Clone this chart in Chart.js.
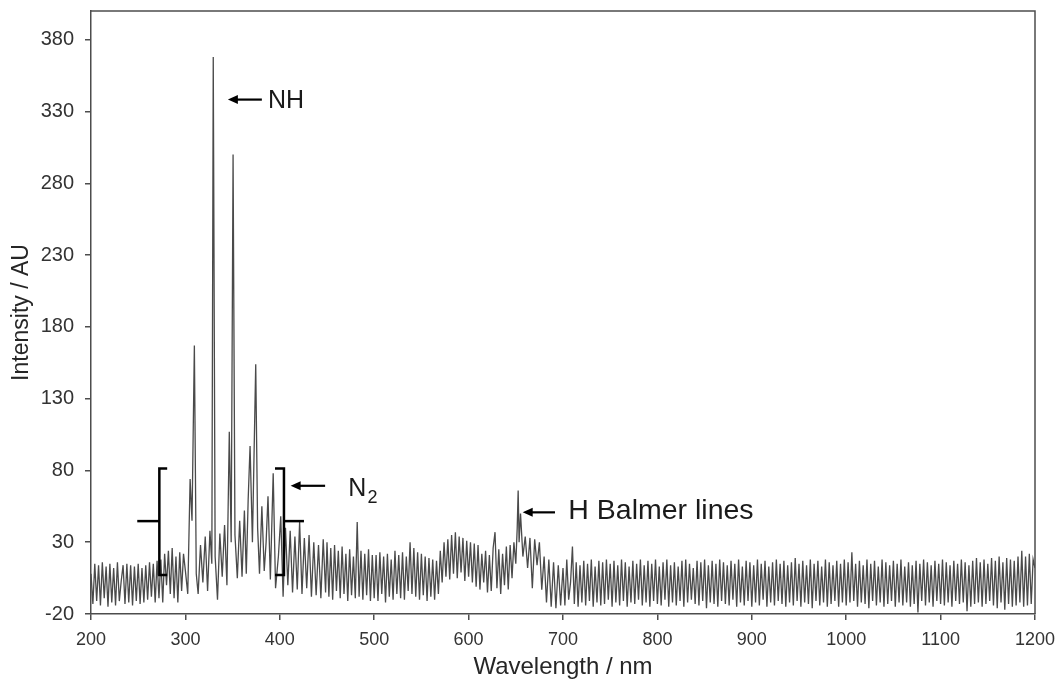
<!DOCTYPE html>
<html>
<head>
<meta charset="utf-8">
<script src="https://cdn.jsdelivr.net/npm/chart.js@4.4.1/dist/chart.umd.min.js"></script>
<style>
  html, body { margin: 0; padding: 0; background: #ffffff; }
  #wrap { width: 1062px; height: 682px; }
</style>
</head>
<body>
<div id="wrap"><canvas id="c" width="1062" height="682"></canvas></div>
<script>
// ---- Data ----
const wavelength = [
  200,202,204,206,208,210,212,214,216,218,220,222,224,226,228,230,232,234,236,238,240,242,244,246,248,
  250,252,254,256,258,260,262,264,266,268,270,272,274,276,278,280,282,284,286,288,290,292,294,296,298,
  300,302.5,305,307,309.5,311.5,313.5,316,318.5,321,323.5,326,328,329.5,331.5,334,336.5,339,341.5,344,
  346.5,348.5,350.5,352.5,355,357.5,360,362.5,364.5,366.5,368.5,371,374.5,376.5,378.5,381,383.5,385.5,387.5,390,
  393,395.5,398.5,401,403.5,406,408.5,411,413.5,416,418.5,421,423.5,426,428.5,431,433.5,436,438.5,441,443.5,446,448.5,
  450,452,454,456,458,460,462,464,466,468,470,472,474,476,478,480,482,484,486,488,490,492,494,496,498,
  500,502,504,506,508,510,512,514,516,518,520,522,524,526,528,530,532,534,536,538,540,542,544,546,548,
  550,552,554,556,558,560,562,564,566,568,570,572,574,576,578,580,582,584,586,588,590,592,594,596,598,
  600,602,604,606,608,610,612,614,616,618,620,622,624,626,628,630,632,634,636,638,640,642,644,646,648,
  650,651.5,652.5,653.5,655,657.5,660,662.5,665,667.5,670,672.5,675,677.5,680,682.5,685,687.5,690,692.5,695,697.5,
  700,702,704,706,708,710,712,714,716,718,720,722,724,726,728,730,732,734,736,738,740,742,744,746,748,
  750,752,754,756,758,760,762,764,766,768,770,772,774,776,778,780,782,784,786,788,790,792,794,796,798,
  800,802,804,806,808,810,812,814,816,818,820,822,824,826,828,830,832,834,836,838,840,842,844,846,848,
  850,852,854,856,858,860,862,864,866,868,870,872,874,876,878,880,882,884,886,888,890,892,894,896,898,
  900,902,904,906,908,910,912,914,916,918,920,922,924,926,928,930,932,934,936,938,940,942,944,946,948,
  950,952,954,956,958,960,962,964,966,968,970,972,974,976,978,980,982,984,986,988,990,992,994,996,998,
  1000,1002,1004,1006,1008,1010,1012,1014,1016,1018,1020,1022,1024,1026,1028,1030,1032,1034,1036,1038,1040,1042,1044,1046,1048,
  1050,1052,1054,1056,1058,1060,1062,1064,1066,1068,1070,1072,1074,1076,1078,1080,1082,1084,1086,1088,1090,1092,1094,1096,1098,
  1100,1102,1104,1106,1108,1110,1112,1114,1116,1118,1120,1122,1124,1126,1128,1130,1132,1134,1136,1138,1140,1142,1144,1146,1148,
  1150,1152,1154,1156,1158,1160,1162,1164,1166,1168,1170,1172,1174,1176,1178,1180,1182,1184,1186,1188,1190,1192,1194,1196,1198,
  1200
];
const intensity = [
  8,-13,15,-11,14,-14,16,-9,13,-15,15,-12,12,-14,16,-11,3,14,-13,15,-12,14,-14,13,-11,
  15,-13,12,-12,14,-10,16,-8,15,-12,17,-9,18,-12,22,0,24,-6,26,-9,20,-12,23,-4,22,
  10,-6,74,45,167,8,-6,28,2,34,-4,38,15,368,20,-10,36,6,42,0,
  107,30,300,35,5,45,6,52,8,60,97,30,154,40,8,55,10,30,62,4,
  78,-2,20,48,-8,40,0,38,-5,34,-3,44,-6,33,-2,35,-8,30,-7,28,-9,32,-5,
  30,-8,26,-10,28,-4,24,-9,27,-6,22,-11,25,-7,20,-9,44,-8,24,-10,22,-7,25,-11,21,
  -9,21,-11,23,-6,20,-12,22,-8,18,-10,24,-6,21,-9,23,-10,20,-4,30,-6,26,-8,23,-10,
  22,-7,20,-11,19,-8,18,-10,17,-6,24,2,30,6,32,4,35,8,37,5,34,9,33,3,31,
  6,30,2,29,-1,28,-3,22,2,24,-5,21,-4,26,37,-2,25,-6,22,0,27,-3,28,5,30,
  15,40,66,30,50,20,34,12,33,-2,32,14,30,-3,20,-12,18,-15,16,-16,14,-14,
  12,-14,18,-10,2,27,-13,16,-15,14,-12,17,-14,15,-11,18,-15,13,-12,17,-14,16,-13,18,-10,
  15,-15,17,-12,14,-14,18,-11,16,-15,13,-12,17,-13,15,-10,18,-14,14,-12,17,-15,15,-11,18,
  -13,13,-14,16,-10,18,-15,14,-12,16,-14,13,-11,17,-15,18,-12,15,-10,12,-13,17,-14,16,-11,
  18,-16,14,-12,17,-13,15,-15,18,-11,16,-13,14,-14,17,-10,15,-15,18,-12,13,-14,17,-11,16,
  -15,14,-12,18,-14,15,-10,17,-15,13,-12,16,-14,18,-11,15,-13,17,-15,14,-12,16,-14,19,-11,
  15,-15,17,-12,14,-13,18,-16,15,-11,17,-14,13,-12,18,-15,16,-13,14,-11,17,-15,15,-12,18,
  -14,16,-12,23,-11,15,-15,17,-12,14,-13,18,-16,15,-11,17,-14,13,-12,18,-15,16,-13,14,-11,
  17,-15,15,-12,18,-14,13,-12,16,-15,14,-13,17,-19,15,-11,18,-14,16,-12,14,-15,17,-11,15,
  -13,18,-14,16,-12,14,-15,17,-11,15,-13,18,-12,16,-18,14,-15,17,-13,19,-12,16,-15,18,-13,
  15,-11,19,-14,17,-16,20,-12,16,-17,19,-13,18,-15,17,-14,20,-12,24,-15,20,-14,22,-13,18,
  12
];
const xTickValues = [200,300,400,500,600,700,800,900,1000,1100,1200];
const yTickValues = [-20,30,80,130,180,230,280,330,380];
const xLabel = 'Wavelength / nm';
const yLabel = 'Intensity / AU';

// Annotation anchors in data coordinates (wavelength, intensity)
const arrowNotes = [
  { text: 'NH',             sub: '',  size: 25, tail: [381, 338.3], tip: [345, 338.3], label: [387.5, 337] },
  { text: 'N',              sub: '2', size: 25, tail: [448, 69.3],  tip: [411.5, 69.3], label: [472.6, 66.8] },
  { text: 'H Balmer lines', sub: '',  size: 28.5, tail: [691.5, 50.8], tip: [657.3, 50.8], label: [705.6, 51.5] }
];
// brackets: vertical line x, serif end x, stub end x, top y, bottom y, mid y
const brackets = [
  { x: 272.4, serif: 280.7, stub: 249,   top: 81.4, bottom: 7.1, mid: 44.7 },
  { x: 404.4, serif: 394.9, stub: 425.6, top: 81.4, bottom: 7.1, mid: 44.7 }
];

const n = Math.min(wavelength.length, intensity.length);
const points = wavelength.slice(0, n).map((w, i) => ({ x: w, y: intensity[i] }));
const FONT = "'Liberation Sans', Arial, Helvetica, sans-serif";

const annotationPlugin = {
  id: 'annotations',
  afterDatasetsDraw(chart) {
    const ctx = chart.ctx;
    const xs = chart.scales.x, ys = chart.scales.y;
    const px = v => xs.getPixelForValue(v);
    const py = v => ys.getPixelForValue(v);
    ctx.save();
    const a = chart.chartArea;
    ctx.strokeStyle = '#4d4d4d';
    ctx.lineWidth = 1.5;
    ctx.beginPath();
    ctx.moveTo(a.left, a.top);
    ctx.lineTo(a.right, a.top);
    ctx.lineTo(a.right, a.bottom);
    ctx.stroke();

    ctx.strokeStyle = '#000000';
    ctx.lineWidth = 2.5;
    ctx.lineCap = 'butt';
    brackets.forEach(b => {
      ctx.beginPath();
      ctx.moveTo(px(b.serif), py(b.top));
      ctx.lineTo(px(b.x), py(b.top));
      ctx.lineTo(px(b.x), py(b.bottom));
      ctx.lineTo(px(b.serif), py(b.bottom));
      ctx.stroke();
      ctx.beginPath();
      ctx.moveTo(px(b.x), py(b.mid));
      ctx.lineTo(px(b.stub), py(b.mid));
      ctx.stroke();
    });

    arrowNotes.forEach(nt => {
      const x0 = px(nt.tail[0]), y0 = py(nt.tail[1]);
      const x1 = px(nt.tip[0]), y1 = py(nt.tip[1]);
      ctx.strokeStyle = '#000000';
      ctx.fillStyle = '#000000';
      ctx.lineWidth = 2.2;
      ctx.beginPath();
      ctx.moveTo(x0, y0);
      ctx.lineTo(x1 + 7, y1);
      ctx.stroke();
      ctx.beginPath();
      ctx.moveTo(x1, y1);
      ctx.lineTo(x1 + 10, y1 - 4.5);
      ctx.lineTo(x1 + 10, y1 + 4.5);
      ctx.closePath();
      ctx.fill();

      ctx.fillStyle = '#1a1a1a';
      ctx.font = nt.size + 'px ' + FONT;
      ctx.textAlign = 'left';
      ctx.textBaseline = 'middle';
      const lx = px(nt.label[0]), ly = py(nt.label[1]);
      ctx.fillText(nt.text, lx, ly);
      if (nt.sub) {
        const w = ctx.measureText(nt.text).width;
        ctx.font = '18px ' + FONT;
        ctx.fillText(nt.sub, lx + w + 1, ly + 9);
      }
    });
    ctx.restore();
  }
};

new Chart(document.getElementById('c'), {
  type: 'line',
  data: {
    datasets: [{
      data: points,
      borderColor: '#4a4a4a',
      borderWidth: 1.3,
      pointRadius: 0,
      tension: 0,
      fill: false
    }]
  },
  options: {
    responsive: false,
    animation: false,
    devicePixelRatio: 1,
    parsing: false,
    normalized: true,
    layout: { padding: { left: 0, top: 11, right: 27, bottom: 0 } },
    plugins: { legend: { display: false }, tooltip: { enabled: false }, title: { display: false } },
    scales: {
      x: {
        type: 'linear',
        min: 200,
        max: 1200,
        afterBuildTicks: s => { s.ticks = xTickValues.map(v => ({ value: v })); },
        afterFit: s => { s.height = 68; s.paddingLeft = 0; s.paddingRight = 0; },
        ticks: { font: { family: FONT, size: 18 }, color: '#333333', padding: 9, maxRotation: 0, autoSkip: false,
                 callback: v => String(v) },
        grid: { drawOnChartArea: false, drawTicks: true, tickLength: 6, color: '#4d4d4d', lineWidth: 1.5 },
        border: { color: '#4d4d4d', width: 1.5 },
        title: { display: true, text: xLabel, font: { family: FONT, size: 24 }, color: '#262626', padding: { top: 0, bottom: 0 } }
      },
      y: {
        type: 'linear',
        min: -20,
        max: 400,
        afterBuildTicks: s => { s.ticks = yTickValues.map(v => ({ value: v })); },
        afterFit: s => { s.width = 91; s.paddingTop = 0; s.paddingBottom = 0; },
        ticks: { font: { family: FONT, size: 20 }, color: '#333333', padding: 11, autoSkip: false,
                 callback: v => String(v) },
        grid: { drawOnChartArea: false, drawTicks: true, tickLength: 6, color: '#4d4d4d', lineWidth: 1.5 },
        border: { color: '#4d4d4d', width: 1.5 },
        title: { display: true, text: yLabel, font: { family: FONT, size: 23 }, color: '#262626', padding: { top: 8, bottom: 0 } }
      }
    }
  },
  plugins: [annotationPlugin]
});
</script>
</body>
</html>
